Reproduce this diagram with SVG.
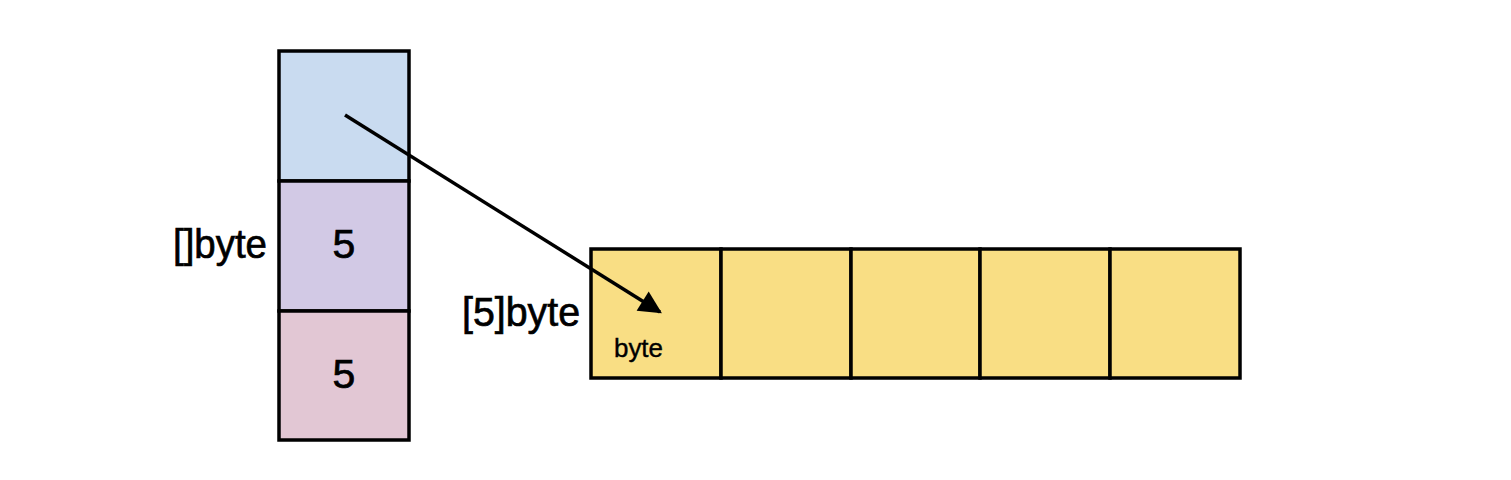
<svg xmlns="http://www.w3.org/2000/svg" width="1511" height="480" viewBox="0 0 1511 480">
<style>
.cell{stroke:#000;stroke-width:3.5}
.y{fill:#f9de84}
.t{font-family:"Liberation Sans",Arial,sans-serif;fill:#000;stroke:#000;stroke-width:0.7}
.big{font-size:41px}
.small{font-size:26px;stroke-width:0.4}
</style>
<defs>
<marker id="ah" viewBox="0 0 10 10" refX="9" refY="5" markerWidth="8" markerHeight="6.5" markerUnits="strokeWidth" orient="auto">
<path d="M0,0 L10,5 L0,10 z" fill="#000"/>
</marker>
</defs>
<rect width="1511" height="480" fill="#fff"/>
<g id="slice">
<rect class="cell" x="279" y="51" width="130" height="130" fill="#c9dbf0"/>
<rect class="cell" x="279" y="181" width="130" height="130" fill="#d2c9e5"/>
<rect class="cell" x="279" y="311" width="130" height="129" fill="#e2c7d4"/>
<text class="t big" x="344" y="258" text-anchor="middle">5</text>
<text class="t big" x="344" y="388" text-anchor="middle">5</text>
<text class="t big" x="173" y="258" textLength="94" lengthAdjust="spacingAndGlyphs">[]byte</text>
</g>
<g id="array">
<rect class="cell y" x="591" y="249" width="130" height="129"/>
<rect class="cell y" x="721" y="249" width="130" height="129"/>
<rect class="cell y" x="851" y="249" width="129" height="129"/>
<rect class="cell y" x="980" y="249" width="130" height="129"/>
<rect class="cell y" x="1110" y="249" width="130" height="129"/>
<text class="t big" x="462" y="326" textLength="118" lengthAdjust="spacingAndGlyphs">[5]byte</text>
<text class="t small" x="614" y="357" textLength="49" lengthAdjust="spacingAndGlyphs">byte</text>
</g>
<g id="connectors">
<line x1="345" y1="115" x2="660" y2="312" stroke="#000" stroke-width="3.5" marker-end="url(#ah)"/>
</g>
</svg>
